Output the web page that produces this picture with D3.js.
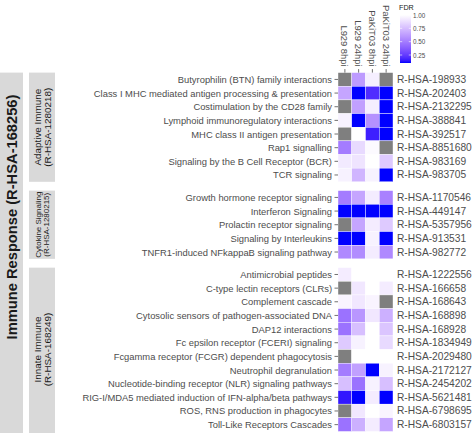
<!DOCTYPE html>
<html><head><meta charset="utf-8">
<script src="https://cdn.jsdelivr.net/npm/d3@7"></script>
<style>
body{margin:0;background:#fff}
svg{display:block}
text{font-family:"Liberation Sans",Arial,Helvetica,sans-serif}
</style>
</head><body>
<svg id="c" width="472" height="433"></svg>
<script>
// ---------------- DATA ----------------
const samples = ["L929 8hpi", "L929 24hpi", "PaKiT03 8hpi", "PaKiT03 24hpi"];

const outerStrip = "Immune Response (R-HSA-168256)";

const adaptiveStrip = ["Adaptive Immune", "(R-HSA-1280218)"];
const adaptivePathways = [
  "Butyrophilin (BTN) family interactions",
  "Class I MHC mediated antigen processing & presentation",
  "Costimulation by the CD28 family",
  "Lymphoid immunoregulatory interactions",
  "MHC class II antigen presentation",
  "Rap1 signalling",
  "Signaling by the B Cell Receptor (BCR)",
  "TCR signaling"
];
const adaptiveIds = ["R-HSA-198933","R-HSA-202403","R-HSA-2132295","R-HSA-388841","R-HSA-392517","R-HSA-8851680","R-HSA-983169","R-HSA-983705"];
const adaptiveFDR = [
  [null, 0.62, 0.94, null],
  [0.66, 0.10, 0.20, 0.10],
  [null, 0.64, 0.94, 0.10],
  [0.95, 0.10, 0.58, 0.10],
  [null, 1.00, 0.16, 0.10],
  [0.50, 0.86, 0.98, null],
  [0.92, 0.90, 1.00, 0.80],
  [0.95, 0.72, 0.95, 0.10]
];

const cytokineStrip = ["Cytokine Signaling", "(R-HSA-1280215)"];
const cytokinePathways = [
  "Growth hormone receptor signaling",
  "Interferon Signaling",
  "Prolactin receptor signaling",
  "Signaling by Interleukins",
  "TNFR1-induced NFkappaB signaling pathway"
];
const cytokineIds = ["R-HSA-1170546","R-HSA-449147","R-HSA-5357956","R-HSA-913531","R-HSA-982772"];
const cytokineFDR = [
  [0.50, 0.66, 0.93, 0.52],
  [0.10, 0.10, 0.10, 0.10],
  [null, 0.66, 0.93, 0.80],
  [0.10, 0.10, 0.95, 0.10],
  [0.55, 0.56, 0.93, 0.55]
];

const innateStrip = ["Innate Immune", "(R-HSA-168249)"];
const innatePathways = [
  "Antimicrobial peptides",
  "C-type lectin receptors (CLRs)",
  "Complement cascade",
  "Cytosolic sensors of pathogen-associated DNA",
  "DAP12 interactions",
  "Fc epsilon receptor (FCERI) signaling",
  "Fcgamma receptor (FCGR) dependent phagocytosis",
  "Neutrophil degranulation",
  "Nucleotide-binding receptor (NLR) signaling pathways",
  "RIG-I/MDA5 mediated induction of IFN-alpha/beta pathways",
  "ROS, RNS production in phagocytes",
  "Toll-Like Receptors Cascades"
];
const innateIds = ["R-HSA-1222556","R-HSA-166658","R-HSA-168643","R-HSA-168898","R-HSA-168928","R-HSA-1834949","R-HSA-2029480","R-HSA-2172127","R-HSA-2454202","R-HSA-5621481","R-HSA-6798695","R-HSA-6803157"];
const innateFDR = [
  [0.93, 1.00, 1.00, 1.00],
  [null, 0.91, 1.00, 0.93],
  [0.96, 0.91, 0.96, null],
  [0.46, 0.60, 0.91, 0.70],
  [0.46, 0.76, 1.00, 0.78],
  [0.80, 0.95, 1.00, 0.86],
  [null, 1.00, 1.00, 1.00],
  [0.50, 0.64, 0.10, 0.95],
  [0.76, 0.46, 0.95, 0.76],
  [0.14, 0.10, 0.93, 0.10],
  [null, 0.91, 1.00, 0.96],
  [0.46, 0.70, 0.93, 0.66]
];

const legendTitle = "FDR";
const legendTicks = [0.25, 0.50, 0.75, 1.00];
const fdrDomain = [0.1, 1.0];

// ---------------- DRAW ----------------
const svg = d3.select("#c");
const FONT_AXIS = 9.4;
const AXIS_COL = "#4D4D4D";
const STRIP_FILL = "#D9D9D9";

const groups = [
  {strip: adaptiveStrip, pathways: adaptivePathways, ids: adaptiveIds, fdr: adaptiveFDR},
  {strip: cytokineStrip, pathways: cytokinePathways, ids: cytokineIds, fdr: cytokineFDR},
  {strip: innateStrip, pathways: innatePathways, ids: innateIds, fdr: innateFDR}
];

const panelX0 = 338, panelX1 = 393;
const rowH = 13.65, gap = 8.8, top0 = 72.6;

const x = d3.scaleBand().domain(samples).range([panelX0, panelX1]).padding(0);
const color = d3.scaleSequential(d3.interpolateLab("#0000FF", "#FFFFFF")).domain(fdrDomain).clamp(true);

let cur = top0;
groups.forEach(g => {
  const n = g.pathways.length;
  g.y0 = cur; g.y1 = cur + rowH * n;
  g.y = d3.scaleBand().domain(g.pathways).range([g.y0, g.y1]).padding(0);
  cur = g.y1 + gap;
});
const bottom = groups[groups.length - 1].y1;

// outer strip
svg.append("rect").attr("x", 0).attr("y", top0).attr("width", 23).attr("height", 433 - top0).attr("fill", STRIP_FILL);
const outerT = svg.append("text")
  .attr("transform", `translate(11.5,217) rotate(-90)`)
  .attr("text-anchor", "middle").attr("dominant-baseline", "central")
  .attr("fill", "#1A1A1A").attr("font-weight", "bold").attr("font-size", 13)
  .text(outerStrip);
{ const w = outerT.node().getComputedTextLength(); outerT.attr("font-size", 13 * 245 / w); }

groups.forEach((g, gi) => {
  const yb = gi === groups.length - 1 ? 433 : g.y1;
  svg.append("rect").attr("x", 29).attr("y", g.y0).attr("width", 26).attr("height", yb - g.y0).attr("fill", STRIP_FILL);
  const cy = (g.y0 + g.y1) / 2;
  const t = svg.append("text").attr("transform", `translate(42.5,${cy}) rotate(-90)`)
    .attr("text-anchor", "middle").attr("fill", "#1A1A1A").attr("font-size", 10);
  const sp = t.selectAll("tspan").data(g.strip).join("tspan")
    .attr("x", 0).attr("dominant-baseline", "central").text(d => d);
  let maxW = d3.max(sp.nodes(), n => n.getComputedTextLength());
  const avail = (g.y1 - g.y0) - 2;
  let fs = Math.min(9.9, 10 * avail / maxW);
  t.attr("font-size", fs);
  sp.attr("y", (d, i) => (i - 0.5) * fs * 1.02);

  // tiles
  const cells = [];
  g.pathways.forEach((p, r) => samples.forEach((s, c) => cells.push({p, s, v: g.fdr[r][c]})));
  svg.append("g").selectAll("rect").data(cells).join("rect")
    .attr("x", d => x(d.s)).attr("y", d => g.y(d.p))
    .attr("width", x.bandwidth()).attr("height", g.y.bandwidth())
    .attr("fill", d => d.v == null ? "#7F7F7F" : color(d.v))
    .attr("stroke", "#FFFFFF").attr("stroke-width", 0.4);

  // left axis
  const ax = svg.append("g").attr("transform", `translate(${panelX0},0)`)
    .call(d3.axisLeft(g.y).tickSize(3.5).tickPadding(2.5));
  ax.select(".domain").remove();
  ax.selectAll(".tick line").attr("stroke", "#333333").attr("stroke-width", 0.7);
  ax.selectAll(".tick text").attr("fill", AXIS_COL).attr("font-size", FONT_AXIS)
    .attr("font-family", null).attr("dy", null).attr("dominant-baseline", "central");

  // right id labels
  svg.append("g").selectAll("text").data(g.pathways).join("text")
    .attr("x", 397).attr("y", d => g.y(d) + g.y.bandwidth() / 2)
    .attr("dominant-baseline", "central").attr("fill", AXIS_COL).attr("font-size", 10.2)
    .text((d, i) => g.ids[i]);
});

// top axis
const tax = svg.append("g").attr("transform", `translate(0,${top0})`)
  .call(d3.axisTop(x).tickSize(3.5).tickPadding(2));
tax.select(".domain").remove();
tax.selectAll(".tick line").attr("stroke", "#333333").attr("stroke-width", 0.7);
tax.selectAll(".tick text").attr("fill", AXIS_COL).attr("font-size", FONT_AXIS).attr("font-family", null)
  .attr("x", 0).attr("y", 0).attr("dy", null)
  .attr("transform", "translate(0,-6) rotate(90)")
  .attr("text-anchor", "end").attr("dominant-baseline", "central");

// legend
const lg = svg.append("g");
const barX = 400, barW = 11;
const yL = d3.scaleLinear().domain(fdrDomain).range([63, 15]);
const grad = svg.append("defs").append("linearGradient").attr("id", "fdrgrad")
  .attr("x1", 0).attr("y1", 1).attr("x2", 0).attr("y2", 0);
d3.range(0, 1.0001, 0.05).forEach(t => {
  const v = fdrDomain[0] + t * (fdrDomain[1] - fdrDomain[0]);
  grad.append("stop").attr("offset", t).attr("stop-color", color(v));
});
lg.append("rect").attr("x", barX).attr("y", yL(1)).attr("width", barW).attr("height", yL(fdrDomain[0]) - yL(1))
  .attr("fill", "url(#fdrgrad)");
legendTicks.forEach(v => {
  lg.append("line").attr("x1", barX).attr("x2", barX + 2.2).attr("y1", yL(v)).attr("y2", yL(v)).attr("stroke", "#fff").attr("stroke-width", 0.6);
  lg.append("line").attr("x1", barX + barW - 2.2).attr("x2", barX + barW).attr("y1", yL(v)).attr("y2", yL(v)).attr("stroke", "#fff").attr("stroke-width", 0.6);
  lg.append("text").attr("x", barX + barW + 2).attr("y", yL(v)).attr("dominant-baseline", "central")
    .attr("font-size", 6.3).attr("fill", AXIS_COL).text(d3.format(".2f")(v));
});
lg.append("text").attr("x", barX - 1).attr("y", 10).attr("font-size", 7.2).attr("fill", "#1A1A1A").text(legendTitle);
</script>
</body></html>
